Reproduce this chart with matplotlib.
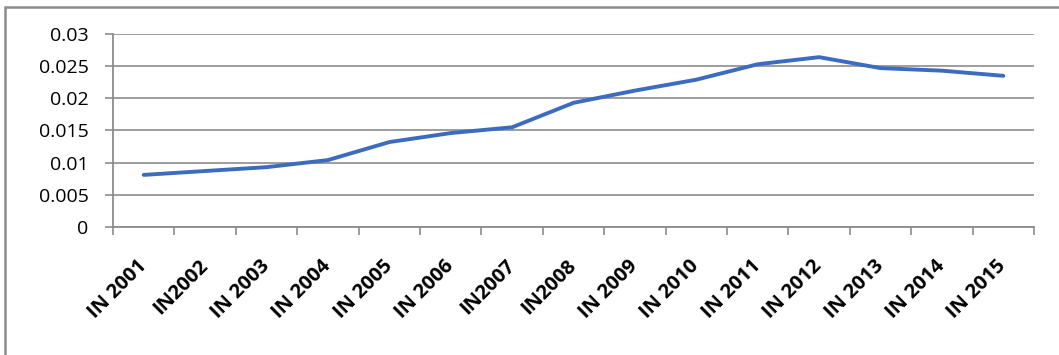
import matplotlib.pyplot as plt
from matplotlib.patches import Rectangle
from matplotlib.ticker import FixedLocator

labels = ["IN 2001", "IN2002", "IN 2003", "IN 2004", "IN 2005", "IN 2006", "IN2007",
          "IN2008", "IN 2009", "IN 2010", "IN 2011", "IN 2012", "IN 2013", "IN 2014", "IN 2015"]
values = [0.0081, 0.0087, 0.0093, 0.0104, 0.0132, 0.0146, 0.0155,
          0.0193, 0.0212, 0.0229, 0.0253, 0.0264, 0.0247, 0.0243, 0.0235]
y_ticks = [0, 0.005, 0.01, 0.015, 0.02, 0.025, 0.03]
y_labels = ["0", "0.005", "0.01", "0.015", "0.02", "0.025", "0.03"]


def main():
    plt.rcParams['font.family'] = ['Open Sans', 'DejaVu Sans']
    fig = plt.figure(figsize=(10.59, 3.55), dpi=100)
    ax = fig.add_axes([0.1067, 0.3606, 0.8697, 0.5436])

    # chart frame, cut off at right and bottom like the source
    fig.patches.append(Rectangle((5 / 1059, -0.1), 1.2, 1 - 7 / 355 + 0.1,
                                 transform=fig.transFigure, fill=False,
                                 edgecolor='#8c8c8c', linewidth=1.8))

    x = range(len(values))
    ax.plot(x, values, color='#3b6cc0', linewidth=2.8, solid_capstyle='round')

    ax.set_xlim(-0.5, len(values) - 0.5)
    ax.set_ylim(0, 0.03)
    ax.set_yticks(y_ticks)
    ax.set_yticklabels(y_labels, fontsize=14)
    ax.set_xticks(list(x))
    ax.set_xticklabels(labels, rotation=45, ha='right', va='center',
                       rotation_mode='anchor', fontsize=14.5, fontweight='bold')
    ax.tick_params(axis='x', length=0, pad=26)
    ax.xaxis.set_minor_locator(FixedLocator([i - 0.5 for i in range(len(values) + 1)]))
    ax.tick_params(axis='x', which='minor', length=5.5, color='#8c8c8c', width=1.2)
    ax.tick_params(axis='y', length=5.5, color='#8c8c8c', width=1.2, pad=12)

    ax.grid(axis='y', color='#959595', linewidth=1.3)
    ax.set_axisbelow(True)
    for side in ['top', 'right']:
        ax.spines[side].set_visible(False)
    for side in ['left', 'bottom']:
        ax.spines[side].set_color('#8c8c8c')
        ax.spines[side].set_linewidth(1.3)

    fig.savefig("out.png", dpi=100)


if __name__ == '__main__':
    main()
